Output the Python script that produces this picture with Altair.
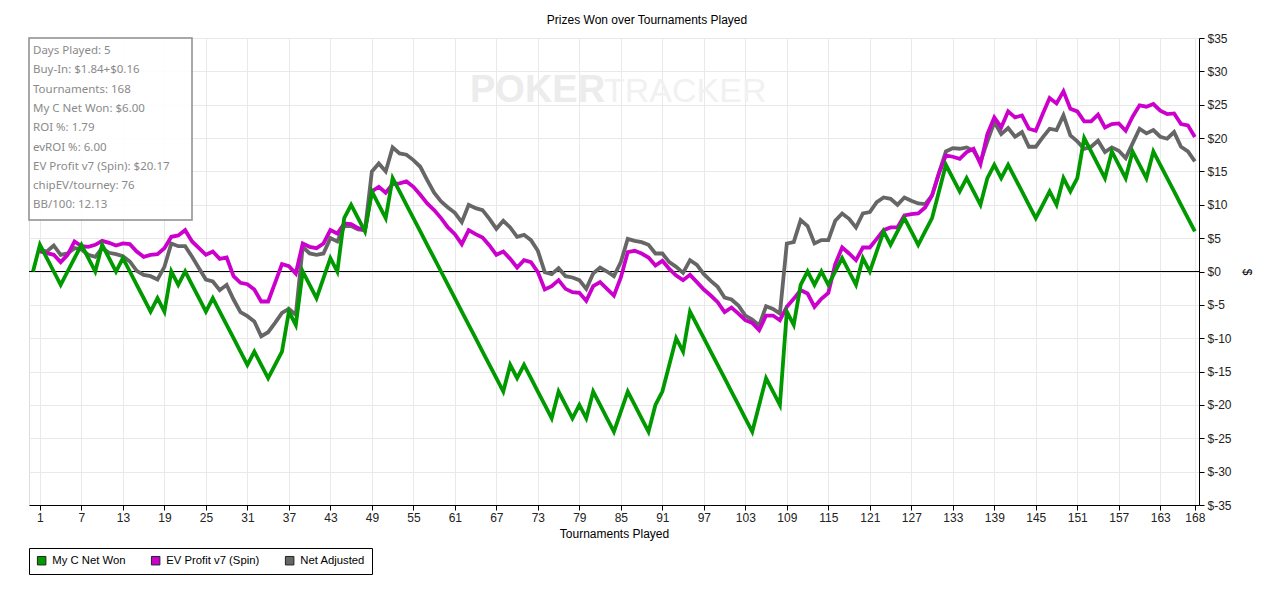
import altair as alt
import pandas as pd

# ---------------- data ----------------
series_names = ["My C Net Won", "EV Profit v7 (Spin)", "Net Adjusted"]
series_colors = ["#009900", "#cc00cc", "#666666"]

# My C Net Won, tournaments 0..168
net_won = [
    0, 4, 2, 0, -2, 0, 2, 4, 2, 0,
    4, 2, 0, 2, 0, -2, -4, -6, -4, -6,
    0, -2, 0, -2, -4, -6, -4, -6, -8, -10,
    -12, -14, -12, -14, -16, -14, -12, -6, -8, 0,
    -2, -4, -1, 2, 0, 8, 10, 8, 6, 12,
    10, 8, 14, 12, 10, 8, 6, 4, 2, 0,
    -2, -4, -6, -8, -10, -12, -14, -16, -18, -14,
    -16, -14, -16, -18, -20, -22, -18, -20, -22, -20,
    -22, -18, -20, -22, -24, -21, -18, -20, -22, -24,
    -20, -18, -14, -10, -12, -6, -8, -10, -12, -14,
    -16, -18, -20, -22, -24, -20, -16, -18, -20, -6,
    -8, -2, 0, -2, 0, -2, 0, 2, 0, -2,
    2, 0, 3, 6, 4, 6, 8, 6, 4, 6,
    8, 12, 16, 14, 12, 14, 12, 10, 14, 16,
    14, 16, 14, 12, 10, 8, 10, 12, 10, 14,
    12, 14, 20, 18, 16, 14, 18, 16, 14, 18,
    16, 14, 18, 16, 14, 12, 10, 8, 6,
]

# EV Profit v7 (Spin), tournaments 1..168
ev_profit = [
    3.0, 2.75, 2.5, 1.4, 2.5, 4.5, 3.8, 3.7, 4.0, 4.6,
    4.3, 3.9, 4.2, 4.1, 3.0, 2.2, 2.5, 2.6, 3.5, 5.2,
    5.4, 6.2, 4.5, 3.5, 2.5, 3.0, 1.9, 2.1, -0.7, -1.7,
    -1.9, -2.7, -4.5, -4.5, -1.7, 1.1, 0.8, -0.3, 4.2, 3.7,
    3.5, 4.2, 6.2, 5.7, 7.2, 7.1, 6.5, 6.2, 12.0, 12.7,
    11.8, 13.1, 13.2, 13.5, 12.7, 11.5, 10.2, 9.2, 8.0, 6.6,
    5.6, 4.1, 6.2, 5.6, 5.1, 3.9, 2.5, 3.0, 1.9, 0.6,
    1.7, 1.4, -0.1, -2.7, -2.2, -1.3, -2.6, -3.1, -3.2, -4.4,
    -2.2, -1.6, -2.6, -3.6, -0.9, 2.9, 3.1, 2.7, 2.1, 0.9,
    1.6, 0.4, -0.6, -1.3, -0.5, -1.6, -2.7, -3.6, -4.6, -6.1,
    -5.4, -6.3, -7.3, -7.7, -8.8, -6.6, -6.6, -7.3, -5.3, -4.1,
    -2.8, -3.3, -5.3, -4.1, -3.2, 1.1, 3.6, 2.7, 1.7, 3.6,
    3.6, 4.9, 6.2, 6.6, 6.6, 8.4, 8.6, 8.7, 9.6, 11.4,
    14.7, 17.4, 17.2, 16.9, 17.9, 18.4, 16.1, 20.6, 23.1, 21.6,
    24.0, 23.1, 23.4, 21.4, 21.1, 23.6, 26.0, 25.2, 27.0, 24.4,
    24.0, 22.5, 22.5, 23.5, 21.6, 22.1, 22.2, 21.1, 23.2, 24.9,
    24.7, 25.1, 24.1, 23.6, 23.7, 22.1, 21.9, 20.17,
]

# Net Adjusted, tournaments 1..168
net_adjusted = [
    3.3, 3.0, 3.9, 2.5, 2.7, 3.5, 3.3, 2.5, 2.2, 3.5,
    2.8, 2.6, 2.3, 1.5, 0.1, -0.5, -0.7, -1.2, 0.7, 4.2,
    3.8, 3.8, 2.2, 0.5, -1.2, -1.5, -2.8, -2.0, -4.2, -6.1,
    -6.7, -7.5, -9.7, -9.1, -7.7, -6.2, -5.6, -6.5, 3.7, 2.7,
    2.5, 2.7, 5.0, 4.5, 6.8, 6.8, 6.3, 6.2, 15.0, 16.2,
    15.0, 18.6, 17.7, 17.5, 16.7, 15.7, 13.7, 11.8, 10.5, 9.6,
    8.8, 7.4, 10.0, 9.5, 9.2, 7.9, 6.4, 7.6, 6.6, 5.2,
    5.5, 4.7, 3.1, -0.1, -0.4, 0.5, -0.7, -0.9, -1.3, -2.6,
    -0.3, 0.6, 0.0, -0.7, 1.4, 4.9, 4.6, 4.4, 4.0, 2.7,
    2.7, 1.4, 0.7, -0.2, 1.7, 1.0, -0.4, -1.4, -2.3, -3.9,
    -4.2, -5.1, -6.6, -7.2, -8.1, -5.2, -5.6, -6.3, 4.2, 4.4,
    7.7, 6.8, 4.2, 4.7, 4.7, 7.6, 8.7, 7.9, 6.6, 8.7,
    8.9, 10.4, 11.1, 10.9, 10.0, 11.1, 10.6, 10.2, 10.1, 11.4,
    14.8, 18.0, 18.5, 18.4, 18.6, 18.1, 16.4, 19.5, 22.4, 20.6,
    21.5, 20.2, 20.9, 18.7, 18.7, 20.1, 21.4, 21.2, 23.4, 20.4,
    19.5, 18.4, 18.7, 19.6, 17.9, 18.6, 18.1, 17.0, 19.2, 21.4,
    20.7, 21.2, 20.2, 19.9, 20.9, 18.7, 18.0, 16.5,
]

x_ticks = [1, 7, 13, 19, 25, 31, 37, 43, 49, 55, 61, 67, 73, 79, 85, 91, 97,
           103, 109, 115, 121, 127, 133, 139, 145, 151, 157, 163, 168]
y_ticks = [-35, -30, -25, -20, -15, -10, -5, 0, 5, 10, 15, 20, 25, 30, 35]

info_lines = [
    "Days Played: 5",
    "Buy-In: $1.84+$0.16",
    "Tournaments: 168",
    "My C Net Won: $6.00",
    "ROI %: 1.79",
    "evROI %: 6.00",
    "EV Profit v7 (Spin): $20.17",
    "chipEV/tourney: 76",
    "BB/100: 12.13",
]

title_text = "Prizes Won over Tournaments Played"
x_title = "Tournaments Played"
y_title = "$"

# ---------------- build tables ----------------
rows = []
for t, v in enumerate(net_won):
    rows.append({"t": t, "value": v, "series": series_names[0]})
for i, v in enumerate(ev_profit):
    rows.append({"t": i + 1, "value": v, "series": series_names[1]})
for i, v in enumerate(net_adjusted):
    rows.append({"t": i + 1, "value": v, "series": series_names[2]})
df = pd.DataFrame(rows)

FONT = "Liberation Sans"

xscale = alt.Scale(domain=[-0.58, 168.6], nice=False, zero=False)
yscale = alt.Scale(domain=[-35, 35], nice=False, zero=False)
cscale = alt.Scale(domain=series_names, range=series_colors)

x_axis = alt.Axis(values=x_ticks, title=x_title, grid=True, gridColor="#e9e9e9",
                  domainColor="black", tickColor="black", tickSize=5,
                  labelFont=FONT, labelFontSize=12, labelColor="#222222",
                  labelPadding=2, labelFlush=False, labelOverlap=False,
                  titleFont=FONT, titleFontSize=12, titleFontWeight="normal",
                  titleColor="black", titlePadding=5)
y_axis = alt.Axis(orient="right", values=y_ticks, labelExpr="'$' + datum.value",
                  title=y_title, grid=True, gridColor="#e9e9e9",
                  domainColor="black", tickColor="black", tickSize=5,
                  labelFont=FONT, labelFontSize=12, labelColor="#222222",
                  labelPadding=3, labelFlush=False, labelOverlap=False,
                  titleFont=FONT, titleFontSize=12, titleFontWeight="normal",
                  titleColor="black", titlePadding=8)

X = alt.X("t:Q", scale=xscale, axis=x_axis)
Y = alt.Y("value:Q", scale=yscale, axis=y_axis)

base = alt.Chart(df)

def line_layer(idx):
    return base.transform_filter(alt.datum.series == series_names[idx]).mark_line(
        strokeWidth=3.8, interpolate="linear", color=series_colors[idx]
    ).encode(x=X, y=Y)

zero_rule = alt.Chart(pd.DataFrame({"value": [0]})).mark_rule(
    color="black", strokeWidth=1
).encode(y=Y)

# carries the legend only; its marks sit outside the clipped view
legend_carrier = alt.Chart(pd.DataFrame({"series": series_names})).mark_square(
    filled=True, clip=True, size=80, opacity=1
).encode(
    x=alt.value(-500), y=alt.value(-500),
    fill=alt.Fill("series:N", scale=cscale, legend=alt.Legend(
        title=None, orient="none", legendX=0, legendY=510,
        direction="horizontal", strokeColor="black", fillColor="white",
        padding=7, symbolType="square", symbolSize=72, symbolOpacity=1,
        symbolStrokeColor="#222222", symbolStrokeWidth=1,
        labelFont=FONT, labelFontSize=11.3, labelColor="black",
        columnPadding=23, labelOffset=5,
    )),
)

wm_poker = alt.Chart(pd.DataFrame({"w": ["POKER"]})).mark_text(
    align="left", baseline="alphabetic", font=FONT, fontSize=38,
    fontWeight="bold", color="#ececec"
).encode(x=alt.value(441), y=alt.value(64), text="w:N")

wm_tracker = alt.Chart(pd.DataFrame({"w": ["TRACKER"]})).mark_text(
    align="left", baseline="alphabetic", font=FONT, fontSize=34,
    color="#f1f1f1"
).encode(x=alt.value(575), y=alt.value(64), text="w:N")

info_box = alt.Chart(pd.DataFrame({"k": [0]})).mark_rect(
    fill="white", fillOpacity=0.9, stroke="#8c8c8c", strokeWidth=1.5
).encode(x=alt.value(0), x2=alt.value(163), y=alt.value(0), y2=alt.value(182))

info_text = alt.Chart(pd.DataFrame({"txt": ["\n".join(info_lines)]})).mark_text(
    align="left", baseline="top", lineBreak="\n", lineHeight=19.3,
    font="Noto Sans", fontSize=11.5, color="#8a8a8a"
).encode(x=alt.value(4), y=alt.value(7), text="txt:N")

chart = alt.layer(
    wm_poker, wm_tracker, zero_rule,
    line_layer(2), line_layer(1), line_layer(0),
    legend_carrier, info_box, info_text,
).properties(
    width=1170, height=467,
    title=alt.TitleParams(title_text, font=FONT, fontSize=12, fontWeight="normal",
                          color="black", offset=5, dx=33),
    autosize=alt.AutoSizeParams(type="none"),
    padding={"left": 21, "top": 30, "right": 55, "bottom": 78},
).configure_view(
    stroke="#555555", strokeWidth=1
).configure(background="white")

chart.save("out.html", embed_options={"renderer": "svg", "actions": False})
